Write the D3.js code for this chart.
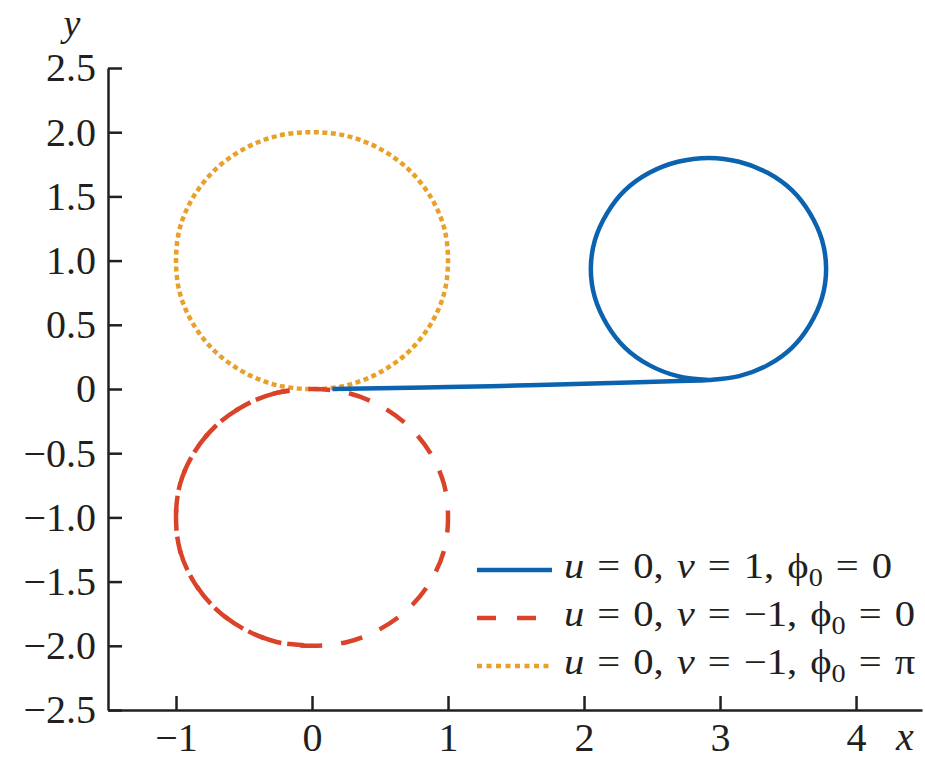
<!DOCTYPE html>
<html>
<head>
<meta charset="utf-8">
<script src="https://cdn.jsdelivr.net/npm/d3@7"></script>
<style>
	body { margin: 0; background: #fff; }
</style>
</head>
<body>
<div id="chart"></div>
<script>
// tick values
const xTicks = [-1, 0, 1, 2, 3, 4];
const yTicks = [-2.5, -2.0, -1.5, -1.0, -0.5, 0, 0.5, 1.0, 1.5, 2.0, 2.5];

// u = 0, v = 1, phi0 = 0  (drift then loop)
const blueCurve = [
	[0.15, 0.0], [0.5, 0.006], [1.0, 0.015], [1.5, 0.027], [2.0, 0.04], [2.4, 0.052],
	[2.7, 0.063], [2.92, 0.07], [3.14, 0.1], [3.35, 0.186], [3.53, 0.323], [3.66, 0.5],
	[3.75, 0.711], [3.78, 0.935], [3.75, 1.159], [3.66, 1.37], [3.53, 1.547], [3.35, 1.684],
	[3.14, 1.77], [2.92, 1.8], [2.69, 1.77], [2.48, 1.684], [2.3, 1.547], [2.17, 1.37],
	[2.08, 1.159], [2.05, 0.935], [2.08, 0.711], [2.17, 0.5], [2.3, 0.323], [2.48, 0.186],
	[2.69, 0.1], [2.92, 0.07]
];

// u = 0, v = -1, phi0 = 0
const redCurve = [
	[0, 0], [-0.26, -0.03], [-0.5, -0.13], [-0.71, -0.29], [-0.87, -0.5], [-0.97, -0.74],
	[-1, -1], [-0.97, -1.26], [-0.87, -1.5], [-0.71, -1.71], [-0.5, -1.87], [-0.26, -1.97],
	[0, -2], [0.26, -1.97], [0.5, -1.87], [0.71, -1.71], [0.87, -1.5], [0.97, -1.26],
	[1, -1], [0.97, -0.74], [0.87, -0.5], [0.71, -0.29], [0.5, -0.13], [0.26, -0.03]
];

// u = 0, v = -1, phi0 = pi
const orangeCurve = [
	[0, 0], [0.26, 0.03], [0.5, 0.13], [0.71, 0.29], [0.87, 0.5], [0.97, 0.74],
	[1, 1], [0.97, 1.26], [0.87, 1.5], [0.71, 1.71], [0.5, 1.87], [0.26, 1.97],
	[0, 2], [-0.26, 1.97], [-0.5, 1.87], [-0.71, 1.71], [-0.87, 1.5], [-0.97, 1.26],
	[-1, 1], [-0.97, 0.74], [-0.87, 0.5], [-0.71, 0.29], [-0.5, 0.13], [-0.26, 0.03]
];

const legendLabels = [
	{ v: "1", phi: "0" },
	{ v: "\u22121", phi: "0" },
	{ v: "\u22121", phi: "\u03c0" }
];

const blue = "#0b63b0", red = "#da4329", orange = "#e9a02a";
const serif = "'Liberation Serif', 'Times New Roman', Times, serif";

const width = 925, height = 763;

const svg = d3.select("#chart").append("svg")
	.attr("width", width)
	.attr("height", height)
	.attr("font-family", serif);

// set the ranges
const x = d3.scaleLinear().domain([-1.5, 4.485]).range([108, 922]);
const y = d3.scaleLinear().domain([-2.5, 2.5]).range([710, 68]);

// axes
const yAxis = svg.append("g")
	.attr("transform", "translate(" + x(-1.5) + ",0)")
	.call(d3.axisLeft(y)
		.tickValues(yTicks)
		.tickSizeInner(-14)
		.tickSizeOuter(0)
		.tickPadding(12)
		.tickFormat(d => d === 0 ? "0" : d3.format(".1f")(d)));

const xAxis = svg.append("g")
	.attr("transform", "translate(0," + y(-2.5) + ")")
	.call(d3.axisBottom(x)
		.tickValues(xTicks)
		.tickSizeInner(-14)
		.tickSizeOuter(0)
		.tickPadding(13)
		.tickFormat(d3.format("d")));

[xAxis, yAxis].forEach(a => {
	a.attr("font-family", serif).attr("font-size", 40);
	a.selectAll("path, line").attr("stroke", "#231f20").attr("stroke-width", 2.5);
	a.selectAll("text").attr("fill", "#231f20");
});

svg.append("text")
	.attr("x", 905).attr("y", 750)
	.attr("text-anchor", "middle")
	.attr("font-size", 40).attr("font-style", "italic")
	.attr("fill", "#231f20")
	.text("x");
svg.append("text")
	.attr("x", 72).attr("y", 36)
	.attr("text-anchor", "middle")
	.attr("font-size", 38).attr("font-style", "italic")
	.attr("fill", "#231f20")
	.text("y");

// curves
const closed = d3.line()
	.x(d => x(d[0]))
	.y(d => y(d[1]))
	.curve(d3.curveCatmullRomClosed);

const open = d3.line()
	.x(d => x(d[0]))
	.y(d => y(d[1]))
	.curve(d3.curveCatmullRom);

svg.append("path")
	.datum(orangeCurve)
	.attr("d", closed)
	.attr("fill", "none")
	.attr("stroke", orange)
	.attr("stroke-width", 4.5)
	.attr("stroke-dasharray", "5 3.5");

svg.append("path")
	.datum(redCurve)
	.attr("d", closed)
	.attr("fill", "none")
	.attr("stroke", red)
	.attr("stroke-width", 4.5)
	.attr("stroke-dasharray", "22 19");

// second trace over the left half fills in most of the gaps
svg.append("path")
	.datum(redCurve.slice(0, 13))
	.attr("d", open)
	.attr("fill", "none")
	.attr("stroke", red)
	.attr("stroke-width", 4.5)
	.attr("stroke-dasharray", "17 24")
	.attr("stroke-dashoffset", -22.5);

svg.append("path")
	.datum(blueCurve)
	.attr("d", open)
	.attr("fill", "none")
	.attr("stroke", blue)
	.attr("stroke-width", 4.5);

// legend
const legendStyles = [
	{ color: blue, dash: null },
	{ color: red, dash: "19 21" },
	{ color: orange, dash: "5 4.5" }
];

const legend = svg.append("g").attr("transform", "translate(477,570)");

legendLabels.forEach((lab, i) => {
	const row = legend.append("g").attr("transform", "translate(0," + i * 48 + ")");
	row.append("line")
		.attr("x1", 0).attr("x2", 75)
		.attr("stroke", legendStyles[i].color)
		.attr("stroke-width", 4.5)
		.attr("stroke-dasharray", legendStyles[i].dash);
	const t = row.append("text")
		.attr("x", 87).attr("y", 8)
		.attr("font-size", 36)
		.attr("fill", "#231f20")
		.attr("word-spacing", 2.5)
		.attr("transform", "translate(87,0) scale(1.13,1) translate(-87,0)");
	t.append("tspan").attr("font-style", "italic").text("u");
	t.append("tspan").text(" = 0, ");
	t.append("tspan").attr("font-style", "italic").text("v");
	t.append("tspan").text(" = " + lab.v + ", \u03d5");
	t.append("tspan").attr("dy", 8).attr("font-size", 25).text("0");
	t.append("tspan").attr("dy", -8).text(" = " + lab.phi);
});
</script>
</body>
</html>
